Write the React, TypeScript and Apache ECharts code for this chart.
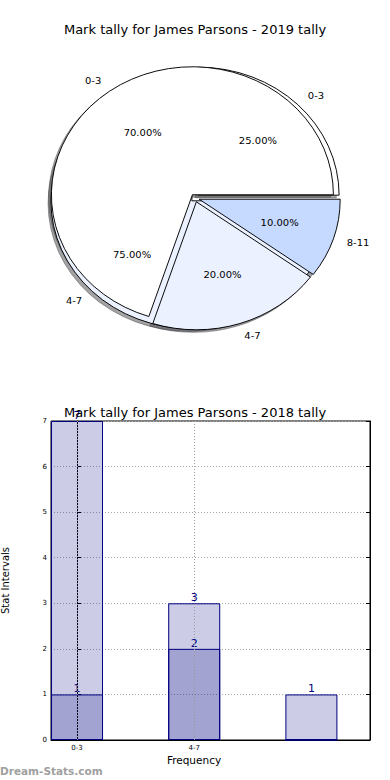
import React, { useEffect, useRef } from 'react';
import * as echarts from 'echarts';

// ---------- data ----------
const pieTitle = 'Mark tally for James Parsons - 2019 tally';
const barTitle = 'Mark tally for James Parsons - 2018 tally';

// first pie (overlapping wedges, counter-clockwise from 90°)
const pieALabels = ['4-7', '0-3'];
const pieAValues = [75, 70];
const pieAColors = ['#ebf1ff', '#ffffff'];

// second pie (clockwise from 90°)
const pieBLabels = ['0-3', '8-11', '4-7'];
const pieBValues = [25, 10, 20];
const pieBColors = ['#ffffff', '#c6d9ff', '#ebf1ff'];

// bar chart
const barCategories = ['0-3', '4-7', '8-11'];
const barTickLabels = ['0-3', '4-7'];
const barTotals = [7, 3, 1];
const barSecond = [1, 2, 0];
const yTickMin = 0;
const yTickMax = 7;

// ---------- styling / layout ----------
const FONT = 'DejaVu Sans';
const PIE_CX = 195;
const PIE_CY = 198;
const PIE_R = 141;
const PIE_SY = 128 / 141;
const EXPLODE = 4.4;
const SHADOW = 2.82;

function darker(hex: string): string {
  const n = parseInt(hex.slice(1), 16);
  const r = Math.round(((n >> 16) & 255) * 0.3);
  const g = Math.round(((n >> 8) & 255) * 0.3);
  const b = Math.round((n & 255) * 0.3);
  return `rgba(${r},${g},${b},0.5)`;
}

type Kind = 'wedge' | 'shadow' | 'pct';

function pieSeries(
  labels: string[],
  values: number[],
  colors: string[],
  startAngle: number,
  clockwise: boolean,
  kind: Kind,
  z: number
): any {
  const total = values.reduce((a, b) => a + b, 0);
  const data: any[] = labels.map((name, i) => {
    const color = colors[i];
    const itemStyle =
      kind === 'wedge'
        ? { color, borderColor: '#000', borderWidth: 1 }
        : kind === 'shadow'
        ? { color: darker(color), borderColor: darker(color), borderWidth: 1 }
        : { color: 'rgba(0,0,0,0)', borderWidth: 0 };
    return { name, value: values[i], selected: true, itemStyle, select: { itemStyle } };
  });
  if (total < 100) {
    data.push({
      name: '',
      value: 100 - total,
      selected: false,
      itemStyle: { color: 'rgba(0,0,0,0)', borderWidth: 0 },
      label: { show: false },
      labelLine: { show: false },
    });
  }
  const center = kind === 'shadow' ? [PIE_CX - SHADOW, PIE_CY + SHADOW] : [PIE_CX, PIE_CY];
  const radius = kind === 'pct' ? 2 * (0.6 * PIE_R - 3) : PIE_R;
  return {
    type: 'pie',
    z,
    center,
    radius,
    startAngle,
    clockwise,
    selectedMode: 'multiple',
    selectedOffset: EXPLODE,
    avoidLabelOverlap: false,
    silent: true,
    animation: false,
    emphasis: { disabled: true },
    label:
      kind === 'wedge'
        ? {
            show: true,
            position: 'outside',
            formatter: '{b}',
            fontSize: 10,
            color: '#000',
            fontFamily: FONT,
            distanceToLabelLine: 0,
          }
        : kind === 'pct'
        ? {
            show: true,
            position: 'inside',
            formatter: (p: any) => `${Number(p.value).toFixed(2)}%`,
            fontSize: 10,
            color: '#000',
            fontFamily: FONT,
          }
        : { show: false },
    labelLine: { show: false, length: 0.1 * PIE_R, length2: 0 },
    data,
  };
}

function buildPieOption(): any {
  const series: any[] = [];
  // pie A is drawn piece by piece because its wedges overlap (sum > 100%)
  const aStarts: number[] = [];
  let acc = 0;
  pieAValues.forEach((v) => {
    aStarts.push(90 + acc * 3.6);
    acc += v;
  });
  const aZ = [2, 4];
  // shadows
  pieALabels.forEach((l, i) =>
    series.push(pieSeries([l], [pieAValues[i]], [pieAColors[i]], aStarts[i], false, 'shadow', 1))
  );
  series.push(pieSeries(pieBLabels, pieBValues, pieBColors, 90, true, 'shadow', 1));
  // wedges
  pieALabels.forEach((l, i) =>
    series.push(pieSeries([l], [pieAValues[i]], [pieAColors[i]], aStarts[i], false, 'wedge', aZ[i]))
  );
  series.push(pieSeries(pieBLabels, pieBValues, pieBColors, 90, true, 'wedge', 3));
  // percentage labels
  pieALabels.forEach((l, i) =>
    series.push(pieSeries([l], [pieAValues[i]], [pieAColors[i]], aStarts[i], false, 'pct', 5))
  );
  series.push(pieSeries(pieBLabels, pieBValues, pieBColors, 90, true, 'pct', 5));
  return { animation: false, textStyle: { fontFamily: FONT }, series };
}

function tickLabel(v: number): string {
  const i = Math.round(v);
  if (Math.abs(v - i) > 1e-6) return '';
  return barTickLabels[i] !== undefined ? barTickLabels[i] : '';
}

function buildMainOption(): any {
  const yAxisBase = {
    type: 'value',
    min: yTickMin,
    max: yTickMax,
    interval: 1,
    axisLine: { show: true, lineStyle: { color: '#000', width: 1 } },
    axisTick: { show: true, inside: true, length: 4, lineStyle: { color: '#000' } },
  };
  return {
    animation: false,
    textStyle: { fontFamily: FONT },
    title: [
      {
        text: pieTitle,
        left: 'center',
        top: 23,
        padding: 0,
        textStyle: { fontSize: 13, fontWeight: 'normal', color: '#000', fontFamily: FONT },
      },
      {
        text: barTitle,
        left: 'center',
        top: 406,
        padding: 0,
        textStyle: { fontSize: 13, fontWeight: 'normal', color: '#000', fontFamily: FONT },
      },
    ],
    grid: {
      left: 51,
      right: 20,
      top: 421,
      bottom: 40,
      show: true,
      borderColor: '#000',
      borderWidth: 1,
      containLabel: false,
      outerBoundsMode: 'none',
    },
    xAxis: {
      type: 'value',
      min: -0.222,
      max: 2.5,
      minInterval: 1,
      axisLine: { show: true, onZero: false, lineStyle: { color: '#000', width: 1 } },
      axisTick: { show: false },
      axisLabel: {
        show: true,
        fontSize: 7,
        color: '#000',
        margin: 4,
        hideOverlap: false,
        formatter: tickLabel,
      },
      splitLine: { show: false },
    },
    yAxis: [
      {
        ...yAxisBase,
        position: 'left',
        name: 'Stat Intervals',
        nameLocation: 'middle',
        nameGap: 41,
        nameTextStyle: { fontSize: 10, color: '#000', fontFamily: FONT },
        axisLabel: { show: true, fontSize: 7, color: '#000', margin: 4 },
        splitLine: { show: true, lineStyle: { color: '#a8a8a8', type: [1, 2], width: 1 } },
      },
      {
        ...yAxisBase,
        position: 'right',
        axisLabel: { show: false },
        splitLine: { show: false },
      },
    ],
    graphic: [
      {
        type: 'text',
        x: 194,
        y: 760,
        style: {
          text: 'Frequency',
          align: 'center',
          verticalAlign: 'middle',
          fill: '#000',
          font: `10.5px "${FONT}"`,
        },
      },
      {
        type: 'text',
        x: 0,
        y: 771,
        style: {
          text: 'Dream-Stats.com',
          align: 'left',
          verticalAlign: 'middle',
          fill: '#a0a0a0',
          font: `bold 10.5px "${FONT}"`,
        },
      },
    ],
    series: [
      {
        type: 'bar',
        name: 'total',
        data: barTotals.map((v, i) => [i, v]),
        barWidth: 52,
        barGap: '-100%',
        itemStyle: { color: 'rgba(0,0,128,0.2)', borderColor: '#000080', borderWidth: 1 },
        label: {
          show: true,
          position: 'top',
          distance: 0,
          color: '#000080',
          fontSize: 11,
          fontFamily: FONT,
          formatter: (p: any) => String(p.value[1]),
        },
        markLine: {
          symbol: 'none',
          silent: true,
          animation: false,
          label: { show: false },
          lineStyle: { color: '#999999', type: [1, 2], width: 1 },
          data: barCategories.slice(0, barTickLabels.length).map((_, i) => ({ xAxis: i })),
        },
      },
      {
        type: 'bar',
        name: 'second',
        data: barSecond.map((v, i) => [i, v]),
        barWidth: 52,
        barGap: '-100%',
        itemStyle: { color: 'rgba(0,0,128,0.2)', borderColor: '#000080', borderWidth: 1 },
        label: {
          show: true,
          position: 'top',
          distance: 0,
          color: '#000080',
          fontSize: 11,
          fontFamily: FONT,
          formatter: (p: any) => (p.value[1] ? String(p.value[1]) : ''),
        },
      },
    ],
  };
}

export default function App() {
  const mainRef = useRef<HTMLDivElement>(null);
  const pieRef = useRef<HTMLDivElement>(null);

  useEffect(() => {
    if (!mainRef.current || !pieRef.current) return;
    const main = echarts.init(mainRef.current, undefined, { renderer: 'svg', width: 390, height: 780 });
    main.setOption(buildMainOption());
    const pie = echarts.init(pieRef.current, undefined, { renderer: 'svg', width: 390, height: 400 });
    pie.setOption(buildPieOption());
    return () => {
      pie.dispose();
      main.dispose();
    };
  }, []);

  return (
    <div
      style={{
        position: 'fixed',
        left: 0,
        top: 0,
        width: 390,
        height: 780,
        background: '#fff',
        overflow: 'hidden',
      }}
    >
      <div ref={mainRef} style={{ position: 'absolute', left: 0, top: 0, width: 390, height: 780 }} />
      <div
        ref={pieRef}
        style={{
          position: 'absolute',
          left: 0,
          top: 0,
          width: 390,
          height: 400,
          transform: `scaleY(${PIE_SY})`,
          transformOrigin: `0px ${PIE_CY}px`,
          pointerEvents: 'none',
        }}
      />
    </div>
  );
}
